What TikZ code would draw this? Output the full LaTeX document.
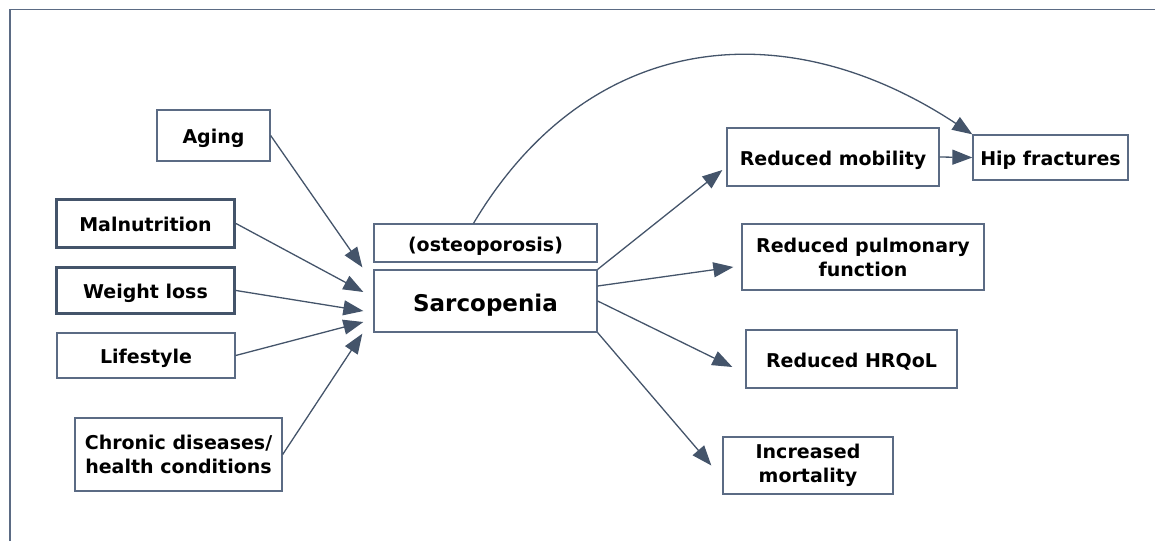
\documentclass[tikz,border=0pt]{standalone}
\usepackage{fontspec}
\setmainfont{DejaVu Sans}
\usetikzlibrary{arrows.meta}
\definecolor{edgec}{HTML}{44546A}
\definecolor{boxline}{HTML}{5B6B84}
\begin{document}
\begin{tikzpicture}[x=1pt,y=-1pt,
  box/.style={draw=boxline, line width=1.3pt, fill=white, inner sep=0pt, align=center,
    font=\fontsize{19}{24}\selectfont\bfseries},
  oneline/.style={text height=16pt, text depth=0pt},
  heavybox/.style={box, draw=edgec, line width=3pt},
  arr/.style={draw=edgec, line width=1.3pt, -{Triangle[length=20pt,width=15pt]}},
  framec/.style={draw=boxline, line width=1.5pt}]
\useasboundingbox (0,0) rectangle (1155,541);
\draw[framec] (10,541) -- (10,9.5) -- (1155,9.5);

\node[box, oneline, minimum width=113, minimum height=51] (aging) at (213.5,135.5) {Aging};
\node[heavybox, oneline, minimum width=178, minimum height=48] (maln) at (145.5,223.5) {Malnutrition};
\node[heavybox, oneline, minimum width=178, minimum height=46] (wl) at (145.5,290.5) {Weight loss};
\node[box, oneline, minimum width=178, minimum height=45] (life) at (146,355.5) {Lifestyle};
\node[box, minimum width=207, minimum height=73] (chron) at (178.5,454.5) {Chronic diseases/\\health conditions};
\node[box, oneline, minimum width=223, minimum height=38] (osteo) at (485.5,243) {(osteoporosis)};
\node[box, minimum width=223, minimum height=62, text height=21pt, text depth=0pt, font=\fontsize{23}{28}\selectfont\bfseries] (sarc) at (485.5,301) {Sarcopenia};
\node[box, oneline, minimum width=212, minimum height=58] (mob) at (833,157) {Reduced mobility};
\node[box, oneline, minimum width=155, minimum height=45] (hip) at (1050.5,157.5) {Hip fractures};
\node[box, minimum width=242, minimum height=66] (pulm) at (863,257) {Reduced pulmonary\\function};
\node[box, oneline, minimum width=211, minimum height=58] (hrqol) at (851.5,359) {Reduced HRQoL};
\node[box, minimum width=170, minimum height=57] (mort) at (808,465.5) {Increased\\mortality};

\draw[arr] (aging.east) -- ([shift={(-11,-2)}]sarc.north west);
\draw[arr] (maln.east) -- ([shift={(-10,-9)}]sarc.west);
\draw[arr] (wl.east) -- ([shift={(-10,10)}]sarc.west);
\draw[arr] (life.east) -- ([shift={(-10,21)}]sarc.west);
\draw[arr] (chron.east) -- ([shift={(-11,1)}]sarc.south west);

\draw[arr] (sarc.north east) -- ([shift={(-4,13)}]mob.west);
\draw[arr] ([shift={(0,-15)}]sarc.east) -- ([shift={(-8,10)}]pulm.west);
\draw[arr] (sarc.east) -- ([shift={(-13,8)}]hrqol.west);
\draw[arr] (sarc.south east) -- ([shift={(-11,0)}]mort.west);
\draw[arr] (mob.east) -- (hip.west);
\draw[arr] ([shift={(-12,0)}]osteo.north) .. controls (588,31) and (784,10) .. (hip.north west);
\end{tikzpicture}
\end{document}
